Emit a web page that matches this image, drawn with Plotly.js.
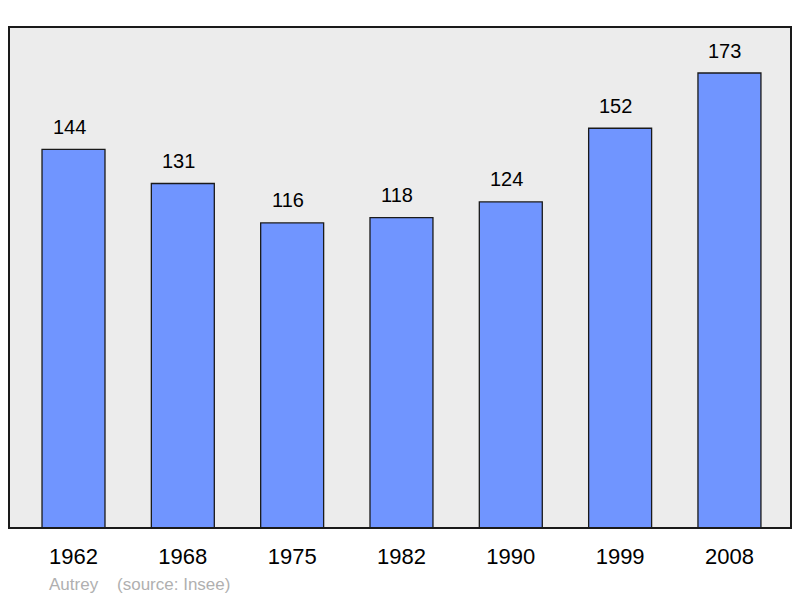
<!DOCTYPE html>
<html><head><meta charset="utf-8">
<script src="https://cdn.plot.ly/plotly-3.0.1.min.js"></script>
<style>html,body{margin:0;padding:0;background:#fff}</style>
</head><body>
<div id="chart" style="width:800px;height:598px"></div>
<script>
const years = ["1962","1968","1975","1982","1990","1999","2008"];
const population = [144,131,116,118,124,152,173];
const sourceText = "Autrey    (source: Insee)";

const FONT = "Liberation Sans, Arial, sans-serif";

const trace = {
  type: "bar",
  x: years,
  y: population,
  width: 0.576,
  marker: {color: "#7095ff", line: {color: "#1a1a1a", width: 1.3}},
  hoverinfo: "none"
};

const annotations = years.map((yr, i) => ({
  x: i, y: population[i], xref: "x", yref: "y",
  text: String(population[i]), showarrow: false,
  yanchor: "middle", yshift: 22.5, xshift: -4.5,
  font: {family: FONT, size: 20, color: "#000"}
}));
annotations.push({
  xref: "paper", yref: "paper", x: 0.0485, y: -0.1128, xanchor: "left", yanchor: "middle",
  text: sourceText.replace(/ /g, "&nbsp;"), showarrow: false,
  font: {family: FONT, size: 17, color: "#b0b0b0"}
});

const layout = {
  width: 800, height: 598,
  margin: {l: 9, r: 9, t: 27, b: 70, pad: 0},
  paper_bgcolor: "#ffffff",
  plot_bgcolor: "#ececec",
  showlegend: false,
  xaxis: {
    type: "category", range: [-0.59, 6.563],
    showgrid: false, zeroline: false, showline: false,
    ticks: "outside", ticklen: 9, tickcolor: "rgba(0,0,0,0)",
    tickfont: {family: FONT, size: 22, color: "#000"}
  },
  yaxis: {
    range: [0, 190.5], showgrid: false, zeroline: false, showline: false,
    showticklabels: false, ticks: ""
  },
  shapes: [{
    type: "rect", xref: "paper", yref: "paper", x0: 0, y0: 0, x1: 1, y1: 1,
    line: {color: "#1a1a1a", width: 2}
  }],
  annotations: annotations
};

Plotly.newPlot("chart", [trace], layout, {staticPlot: true, displayModeBar: false});
</script>
</body></html>
